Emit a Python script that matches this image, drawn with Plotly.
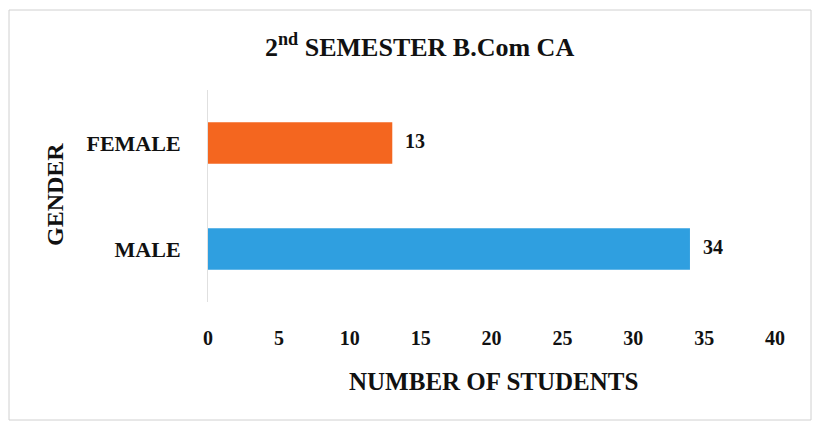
import plotly.graph_objects as go

# data
genders = ["FEMALE", "MALE"]
students = [13, 34]
bar_colors = ["#F4661F", "#2F9FE0"]
x_ticks = [0, 5, 10, 15, 20, 25, 30, 35, 40]

title_text = "<b>2<sup>nd</sup> SEMESTER B.Com CA</b>"
x_title = "<b>NUMBER OF STUDENTS</b>"
y_title = "<b>GENDER</b>"

FONT = "Liberation Serif"
INK = "#111111"

# page body has an 8px margin, so work in page pixels minus 8
OFF = 8
W, H = 820 - OFF, 430 - OFF
L, T = 208 - OFF, 90 - OFF
R = W - (775 - OFF)
B = H - (302 - OFF)
pw, ph = W - L - R, H - T - B


def px(x):
    # page x pixel -> paper coordinate
    return (x - 208) / pw


def py(y):
    # page y pixel -> paper coordinate
    return (302 - y) / ph


fig = go.Figure()

fig.add_trace(go.Bar(
    x=students,
    y=genders,
    orientation="h",
    marker=dict(color=bar_colors, line=dict(width=0)),
    width=0.39,
    hoverinfo="x+y",
))

# value labels just past the bar ends
for g, v in zip(genders, students):
    fig.add_annotation(
        x=v, y=g, text=f"<b>{v}</b>", showarrow=False,
        xanchor="left", xshift=11, yshift=2,
        font=dict(family=FONT, size=20, color=INK),
    )

# chart title and axis titles
fig.add_annotation(x=px(419), y=py(45), xref="paper", yref="paper",
                   text=title_text, showarrow=False,
                   xanchor="center", yanchor="middle",
                   font=dict(family=FONT, size=26, color=INK))
fig.add_annotation(x=px(493), y=py(381), xref="paper", yref="paper",
                   text=x_title, showarrow=False,
                   xanchor="center", yanchor="middle",
                   font=dict(family=FONT, size=25, color=INK))
fig.add_annotation(x=px(55), y=py(195), xref="paper", yref="paper",
                   text=y_title, showarrow=False, textangle=-90,
                   xanchor="center", yanchor="middle",
                   font=dict(family=FONT, size=24, color=INK))

# faint frame around the chart
fig.add_shape(
    type="rect", xref="paper", yref="paper",
    x0=px(9), x1=px(811), y0=py(420), y1=py(10),
    line=dict(color="#d0d0d0", width=1),
)

fig.update_layout(
    width=W, height=H,
    margin=dict(l=L, r=R, t=T, b=B),
    paper_bgcolor="white",
    plot_bgcolor="white",
    showlegend=False,
    font=dict(family=FONT, color=INK),
)

fig.update_xaxes(
    range=[0, 40],
    tickvals=x_ticks,
    ticktext=[f"<b>{t}</b>" for t in x_ticks],
    tickfont=dict(family=FONT, size=20, color=INK),
    showgrid=False, zeroline=False, showline=False,
    ticklabelstandoff=22,
)

fig.update_yaxes(
    categoryorder="array",
    categoryarray=genders[::-1],
    ticktext=[f"<b>{g}</b>" for g in genders],
    tickvals=genders,
    tickfont=dict(family=FONT, size=22, color=INK),
    showgrid=False, zeroline=False,
    showline=True, linecolor="#e0e0e0", linewidth=1,
    ticklabelstandoff=22,
)

fig.write_html("out.html")
